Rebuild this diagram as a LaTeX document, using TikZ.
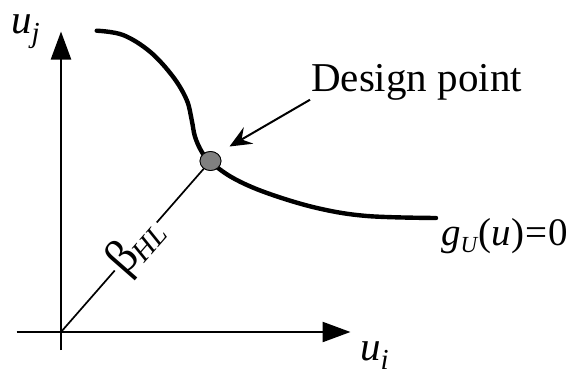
\documentclass[tikz,border=0pt]{standalone}
\usepackage{fontspec}
\setmainfont{Liberation Serif}
\usetikzlibrary{arrows.meta,shapes.geometric}
\tikzset{
  axis/.style={line width=2.4pt, -{Triangle[length=28pt,width=20pt]}},
  plain/.style={line width=2.4pt},
  curveline/.style={line width=4.4pt, line cap=round},
  diag/.style={line width=1.7pt},
  pointer/.style={line width=2pt, -{Stealth[length=22pt,width=19pt,inset=8pt]}},
  dpoint/.style={ellipse, minimum width=21pt, minimum height=19pt, inner sep=0pt, fill=black!50, draw=black, line width=0.8pt},
  lbl/.style={inner sep=0pt, font=\fontsize{41}{41}\selectfont}
}
\begin{document}
\begin{tikzpicture}[x=1pt,y=1pt]
\useasboundingbox (0,0) rectangle (575,368);
% axes
\coordinate (O) at (61,36);
\coordinate (ytip) at (61,336.5);
\coordinate (ybot) at (61,18);
\coordinate (xleft) at (16.7,36);
\coordinate (xtip) at (350.5,36);
\draw[plain] (ybot) -- (O);
\draw[axis] (O) -- (ytip);
\draw[plain] (xleft) -- (O);
\draw[axis] (O) -- (xtip);
% limit state curve
\draw[curveline] plot[smooth, tension=0.6] coordinates {
 (96.7,337.3) (123,333) (150,316.3) (173,291.3) (186.7,268) (191.7,248)
 (195,231.3) (201.7,216.3) (210,206.5) (233,190) (267,175) (317,160)
 (367,152) (436,150)};
% design point
\node[dpoint] (DP) at (210.5,207) {};
\draw[diag] (O) -- node[pos=0.5, sloped, fill=white, inner sep=2pt]
  {\fontsize{48}{48}\selectfont β\kern-2pt\raisebox{-6pt}{\fontsize{29}{29}\selectfont\textit{HL}}} (DP.center);
\node[dpoint] at (DP) {};
% labels
\node[lbl, anchor=base west] (uj) at (11,335) {\textit{u}\raisebox{-9pt}{\fontsize{29}{29}\selectfont\textit{j}}};
\node[lbl, anchor=base west] (ui) at (360,8) {\textit{u}\raisebox{-9pt}{\fontsize{29}{29}\selectfont\textit{i}}};
\node[lbl, anchor=base west, font=\fontsize{39}{39}\selectfont] (g) at (441,123) {\textit{g}\raisebox{-7pt}{\fontsize{23}{23}\selectfont\textit{U}}(\textit{u})\kern1pt=\kern1pt0};
\node[lbl, anchor=base west] (dlabel) at (311,276.3) {Design point};
\coordinate (atip) at (229.5,221.5);
\draw[pointer] ([xshift=-1pt,yshift=1pt]dlabel.south west) -- (atip);
\end{tikzpicture}
\end{document}
